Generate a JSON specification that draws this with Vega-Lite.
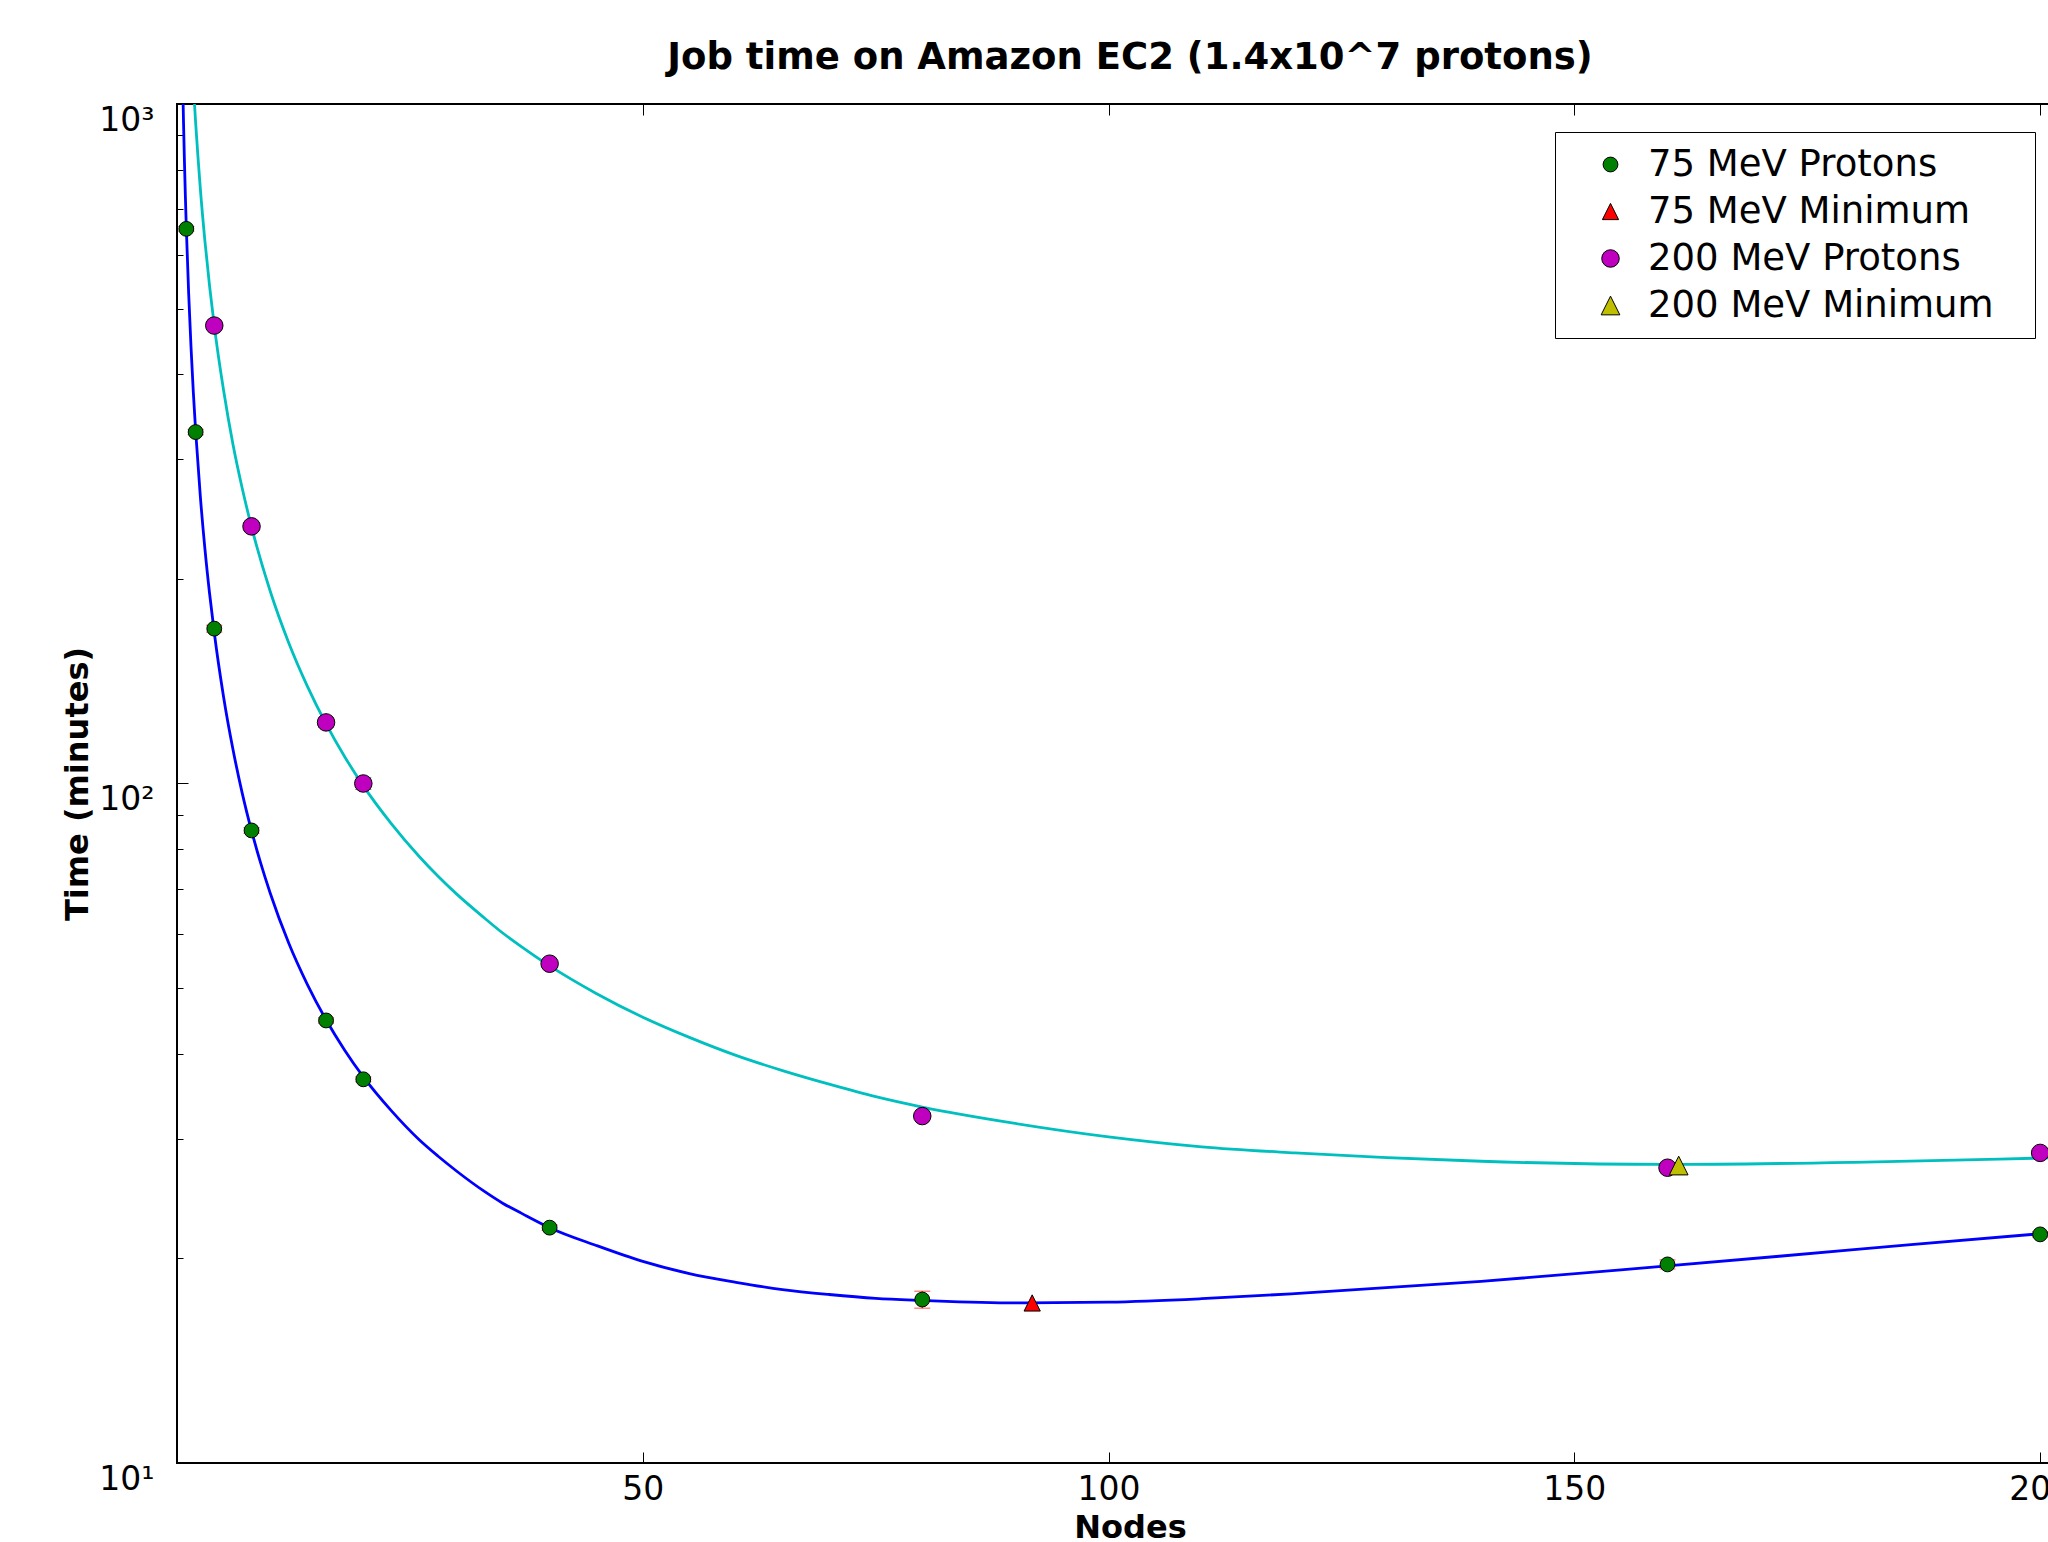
{
  "$schema": "https://vega.github.io/schema/vega-lite/v6.json",
  "width": 1906,
  "height": 1359,
  "autosize": {"type": "none"},
  "padding": {"left": 177, "top": 104, "right": -35, "bottom": 79},
  "background": "white",
  "title": {
    "text": "Job time on Amazon EC2 (1.4x10^7 protons)",
    "font": "DejaVu Sans",
    "fontSize": 37,
    "fontWeight": "bold",
    "color": "black",
    "frame": "group",
    "anchor": "middle",
    "offset": -2,
    "baseline": "alphabetic"
  },
  "config": {
    "font": "DejaVu Sans",
    "view": {"stroke": "black", "strokeWidth": 2},
    "axis": {"grid": false, "domain": false, "tickColor": "black", "labelColor": "black", "titleColor": "black", "tickWidth": 1}
  },
  "datasets": {
    "curves": [
      {"series": "75 MeV fit", "nodes": 0.6, "time": 1095},
      {"series": "75 MeV fit", "nodes": 0.7, "time": 939},
      {"series": "75 MeV fit", "nodes": 0.8, "time": 822},
      {"series": "75 MeV fit", "nodes": 0.9, "time": 731},
      {"series": "75 MeV fit", "nodes": 1, "time": 658},
      {"series": "75 MeV fit", "nodes": 1.25, "time": 527},
      {"series": "75 MeV fit", "nodes": 1.5, "time": 440},
      {"series": "75 MeV fit", "nodes": 1.75, "time": 377},
      {"series": "75 MeV fit", "nodes": 2, "time": 330.5},
      {"series": "75 MeV fit", "nodes": 2.5, "time": 265},
      {"series": "75 MeV fit", "nodes": 3, "time": 221.3},
      {"series": "75 MeV fit", "nodes": 3.5, "time": 190.2},
      {"series": "75 MeV fit", "nodes": 4, "time": 166.8},
      {"series": "75 MeV fit", "nodes": 5, "time": 134.1},
      {"series": "75 MeV fit", "nodes": 6, "time": 112.4},
      {"series": "75 MeV fit", "nodes": 7, "time": 96.8},
      {"series": "75 MeV fit", "nodes": 8, "time": 85.2},
      {"series": "75 MeV fit", "nodes": 9, "time": 76.2},
      {"series": "75 MeV fit", "nodes": 10, "time": 69.0},
      {"series": "75 MeV fit", "nodes": 12, "time": 58.2},
      {"series": "75 MeV fit", "nodes": 14, "time": 50.6},
      {"series": "75 MeV fit", "nodes": 16, "time": 44.9},
      {"series": "75 MeV fit", "nodes": 18, "time": 40.5},
      {"series": "75 MeV fit", "nodes": 20, "time": 37.0},
      {"series": "75 MeV fit", "nodes": 23, "time": 33.0},
      {"series": "75 MeV fit", "nodes": 26, "time": 29.9},
      {"series": "75 MeV fit", "nodes": 28, "time": 28.3},
      {"series": "75 MeV fit", "nodes": 30, "time": 26.9},
      {"series": "75 MeV fit", "nodes": 33, "time": 25.1},
      {"series": "75 MeV fit", "nodes": 35, "time": 24.1},
      {"series": "75 MeV fit", "nodes": 37, "time": 23.3},
      {"series": "75 MeV fit", "nodes": 40, "time": 22.2},
      {"series": "75 MeV fit", "nodes": 45, "time": 20.9},
      {"series": "75 MeV fit", "nodes": 50, "time": 19.8},
      {"series": "75 MeV fit", "nodes": 55, "time": 19.0},
      {"series": "75 MeV fit", "nodes": 60, "time": 18.45},
      {"series": "75 MeV fit", "nodes": 65, "time": 18.0},
      {"series": "75 MeV fit", "nodes": 70, "time": 17.7},
      {"series": "75 MeV fit", "nodes": 75, "time": 17.47},
      {"series": "75 MeV fit", "nodes": 80, "time": 17.35},
      {"series": "75 MeV fit", "nodes": 90, "time": 17.2},
      {"series": "75 MeV fit", "nodes": 100, "time": 17.25},
      {"series": "75 MeV fit", "nodes": 110, "time": 17.45},
      {"series": "75 MeV fit", "nodes": 120, "time": 17.75},
      {"series": "75 MeV fit", "nodes": 140, "time": 18.5},
      {"series": "75 MeV fit", "nodes": 160, "time": 19.5},
      {"series": "75 MeV fit", "nodes": 180, "time": 20.6},
      {"series": "75 MeV fit", "nodes": 200, "time": 21.75},
      {"series": "75 MeV fit", "nodes": 204.6, "time": 22.0},
      {"series": "200 MeV fit", "nodes": 1.8, "time": 1043},
      {"series": "200 MeV fit", "nodes": 2, "time": 939},
      {"series": "200 MeV fit", "nodes": 2.25, "time": 836},
      {"series": "200 MeV fit", "nodes": 2.5, "time": 752},
      {"series": "200 MeV fit", "nodes": 3, "time": 628},
      {"series": "200 MeV fit", "nodes": 3.5, "time": 539},
      {"series": "200 MeV fit", "nodes": 4, "time": 472},
      {"series": "200 MeV fit", "nodes": 5, "time": 379},
      {"series": "200 MeV fit", "nodes": 6, "time": 316},
      {"series": "200 MeV fit", "nodes": 7, "time": 272},
      {"series": "200 MeV fit", "nodes": 8, "time": 238.6},
      {"series": "200 MeV fit", "nodes": 10, "time": 192},
      {"series": "200 MeV fit", "nodes": 12, "time": 161},
      {"series": "200 MeV fit", "nodes": 14, "time": 139},
      {"series": "200 MeV fit", "nodes": 16, "time": 122.4},
      {"series": "200 MeV fit", "nodes": 18, "time": 109.5},
      {"series": "200 MeV fit", "nodes": 20, "time": 99.2},
      {"series": "200 MeV fit", "nodes": 23, "time": 87.3},
      {"series": "200 MeV fit", "nodes": 26, "time": 78.1},
      {"series": "200 MeV fit", "nodes": 28, "time": 73.1},
      {"series": "200 MeV fit", "nodes": 30, "time": 68.8},
      {"series": "200 MeV fit", "nodes": 33, "time": 63.4},
      {"series": "200 MeV fit", "nodes": 35, "time": 60.2},
      {"series": "200 MeV fit", "nodes": 37, "time": 57.5},
      {"series": "200 MeV fit", "nodes": 40, "time": 53.9},
      {"series": "200 MeV fit", "nodes": 45, "time": 49.1},
      {"series": "200 MeV fit", "nodes": 50, "time": 45.3},
      {"series": "200 MeV fit", "nodes": 55, "time": 42.3},
      {"series": "200 MeV fit", "nodes": 60, "time": 39.8},
      {"series": "200 MeV fit", "nodes": 65, "time": 37.8},
      {"series": "200 MeV fit", "nodes": 70, "time": 36.1},
      {"series": "200 MeV fit", "nodes": 75, "time": 34.6},
      {"series": "200 MeV fit", "nodes": 80, "time": 33.4},
      {"series": "200 MeV fit", "nodes": 90, "time": 31.6},
      {"series": "200 MeV fit", "nodes": 100, "time": 30.2},
      {"series": "200 MeV fit", "nodes": 110, "time": 29.2},
      {"series": "200 MeV fit", "nodes": 120, "time": 28.6},
      {"series": "200 MeV fit", "nodes": 140, "time": 27.8},
      {"series": "200 MeV fit", "nodes": 160, "time": 27.5},
      {"series": "200 MeV fit", "nodes": 180, "time": 27.7},
      {"series": "200 MeV fit", "nodes": 200, "time": 28.1},
      {"series": "200 MeV fit", "nodes": 204.6, "time": 28.2}
    ],
    "points": [
      {"series": "75 MeV Protons", "nodes": 1, "time": 655, "lo": 650, "hi": 660},
      {"series": "75 MeV Protons", "nodes": 2, "time": 329, "lo": 326, "hi": 332},
      {"series": "75 MeV Protons", "nodes": 4, "time": 169, "lo": 167, "hi": 171},
      {"series": "75 MeV Protons", "nodes": 8, "time": 85.3, "lo": 84.5, "hi": 86.1},
      {"series": "75 MeV Protons", "nodes": 16, "time": 44.8, "lo": 44.4, "hi": 45.2},
      {"series": "75 MeV Protons", "nodes": 20, "time": 36.7, "lo": 36.4, "hi": 37.0},
      {"series": "75 MeV Protons", "nodes": 40, "time": 22.2, "lo": 22.0, "hi": 22.4},
      {"series": "75 MeV Protons", "nodes": 80, "time": 17.4, "lo": 16.9, "hi": 17.9},
      {"series": "75 MeV Protons", "nodes": 160, "time": 19.6, "lo": 19.3, "hi": 19.9},
      {"series": "75 MeV Protons", "nodes": 200, "time": 21.7, "lo": 21.5, "hi": 21.9},
      {"series": "200 MeV Protons", "nodes": 4, "time": 472, "lo": 467, "hi": 477},
      {"series": "200 MeV Protons", "nodes": 8, "time": 239, "lo": 236, "hi": 242},
      {"series": "200 MeV Protons", "nodes": 16, "time": 123, "lo": 121, "hi": 125},
      {"series": "200 MeV Protons", "nodes": 20, "time": 100, "lo": 98, "hi": 102},
      {"series": "200 MeV Protons", "nodes": 40, "time": 54.3, "lo": 53.8, "hi": 54.8},
      {"series": "200 MeV Protons", "nodes": 80, "time": 32.4, "lo": 32.1, "hi": 32.7},
      {"series": "200 MeV Protons", "nodes": 160, "time": 27.2, "lo": 27.0, "hi": 27.4},
      {"series": "200 MeV Protons", "nodes": 200, "time": 28.6, "lo": 28.4, "hi": 28.8},
      {"series": "75 MeV Minimum", "nodes": 91.8, "time": 17.2},
      {"series": "200 MeV Minimum", "nodes": 161.2, "time": 27.4}
    ]
  },
  "layer": [
    {
      "data": {"name": "curves"},
      "mark": {"type": "line", "clip": true, "strokeWidth": 2.8, "interpolate": "monotone"},
      "encoding": {
        "x": {
          "field": "nodes", "type": "quantitative",
          "scale": {"domain": [0, 204.6], "nice": false, "zero": false},
          "axis": {
            "orient": "bottom", "values": [50, 100, 150, 200],
            "labelFontSize": 33, "labelPadding": 21, "labelFlush": false, "labelOverlap": false,
            "tickSize": -11,
            "title": "Nodes", "titleFontSize": 32, "titleFontWeight": "bold",
            "titleY": 74, "titleBaseline": "alphabetic"
          }
        },
        "y": {
          "field": "time", "type": "quantitative",
          "scale": {"type": "log", "domain": [10, 1000], "nice": false},
          "axis": {
            "orient": "left",
            "values": [10, 20, 30, 40, 50, 60, 70, 80, 90, 100, 200, 300, 400, 500, 600, 700, 800, 900, 1000],
            "labelExpr": "datum.value == 10 ? '10¹' : datum.value == 100 ? '10²' : datum.value == 1000 ? '10³' : ''",
            "labelFontSize": 33, "labelPadding": 34, "labelOffset": 16,
            "labelOverlap": false, "labelFlush": false, "labelBound": false,
            "tickSize": {"condition": {"test": "datum.value == 10 || datum.value == 100 || datum.value == 1000", "value": -11}, "value": -6},
            "title": "Time (minutes)", "titleFontSize": 32, "titleFontWeight": "bold",
            "titleX": -100, "titleY": 679.5, "titleAngle": -90, "titleBaseline": "middle", "titleAlign": "center"
          }
        },
        "color": {
          "field": "series", "type": "nominal",
          "scale": {"domain": ["75 MeV fit", "200 MeV fit"], "range": ["#0000ff", "#00bfbf"]},
          "legend": null
        }
      }
    },
    {
      "data": {"name": "points"},
      "transform": [{"filter": "datum.series == '75 MeV Protons'"}],
      "mark": {"type": "rule", "color": "#ff0000", "strokeWidth": 1},
      "encoding": {
        "x": {"field": "nodes", "type": "quantitative", "axis": null},
        "y": {"field": "lo", "type": "quantitative", "axis": null},
        "y2": {"field": "hi"}
      }
    },
    {
      "data": {"name": "points"},
      "transform": [{"filter": "datum.series == '75 MeV Protons'"}, {"fold": ["lo", "hi"], "as": ["bound", "val"]}],
      "mark": {"type": "tick", "orient": "horizontal", "color": "#ff0000", "size": 16, "thickness": 1},
      "encoding": {
        "x": {"field": "nodes", "type": "quantitative", "axis": null},
        "y": {"field": "val", "type": "quantitative", "axis": null}
      }
    },
    {
      "data": {"name": "points"},
      "transform": [{"filter": "datum.series == '200 MeV Protons'"}],
      "mark": {"type": "rule", "color": "#008000", "strokeWidth": 1},
      "encoding": {
        "x": {"field": "nodes", "type": "quantitative", "axis": null},
        "y": {"field": "lo", "type": "quantitative", "axis": null},
        "y2": {"field": "hi"}
      }
    },
    {
      "data": {"name": "points"},
      "transform": [{"filter": "datum.series == '200 MeV Protons'"}, {"fold": ["lo", "hi"], "as": ["bound", "val"]}],
      "mark": {"type": "tick", "orient": "horizontal", "color": "#008000", "size": 16, "thickness": 1},
      "encoding": {
        "x": {"field": "nodes", "type": "quantitative", "axis": null},
        "y": {"field": "val", "type": "quantitative", "axis": null}
      }
    },
    {
      "data": {"name": "points"},
      "mark": {"type": "point", "filled": true, "stroke": "black", "strokeWidth": 1, "opacity": 1},
      "encoding": {
        "x": {
          "field": "nodes", "type": "quantitative",
          "axis": {"orient": "top", "values": [50, 100, 150, 200], "labels": false, "tickSize": -11, "title": null}
        },
        "y": {"field": "time", "type": "quantitative", "axis": null},
        "fill": {
          "field": "series", "type": "nominal",
          "scale": {"domain": ["75 MeV Protons", "75 MeV Minimum", "200 MeV Protons", "200 MeV Minimum"], "range": ["#008000", "#ff0000", "#bf00bf", "#bfbf00"]},
          "legend": {
            "title": null, "orient": "none", "legendX": 1378, "legendY": 28,
            "padding": 14, "strokeColor": "black", "fillColor": "white", "cornerRadius": 0,
            "labelFont": "DejaVu Sans", "labelFontSize": 37, "labelColor": "black", "labelLimit": 800,
            "rowPadding": 9, "symbolOffset": 23, "labelOffset": 19,
            "symbolStrokeColor": "black", "symbolStrokeWidth": 1,
            "labelExpr": "datum.label + '\u2800'",
            "encode": {"legend": {"update": {"strokeWidth": {"value": 1.5}}}}
          }
        },
        "shape": {
          "field": "series", "type": "nominal",
          "scale": {"domain": ["75 MeV Protons", "75 MeV Minimum", "200 MeV Protons", "200 MeV Minimum"], "range": ["circle", "M0,-1L1,1L-1,1Z", "circle", "M0,-1L1,1L-1,1Z"]}
        },
        "size": {
          "field": "series", "type": "nominal",
          "scale": {"domain": ["75 MeV Protons", "75 MeV Minimum", "200 MeV Protons", "200 MeV Minimum"], "range": [220, 350, 220, 350]}
        }
      }
    }
  ],
  "resolve": {"axis": {"x": "independent", "y": "independent"}}
}
